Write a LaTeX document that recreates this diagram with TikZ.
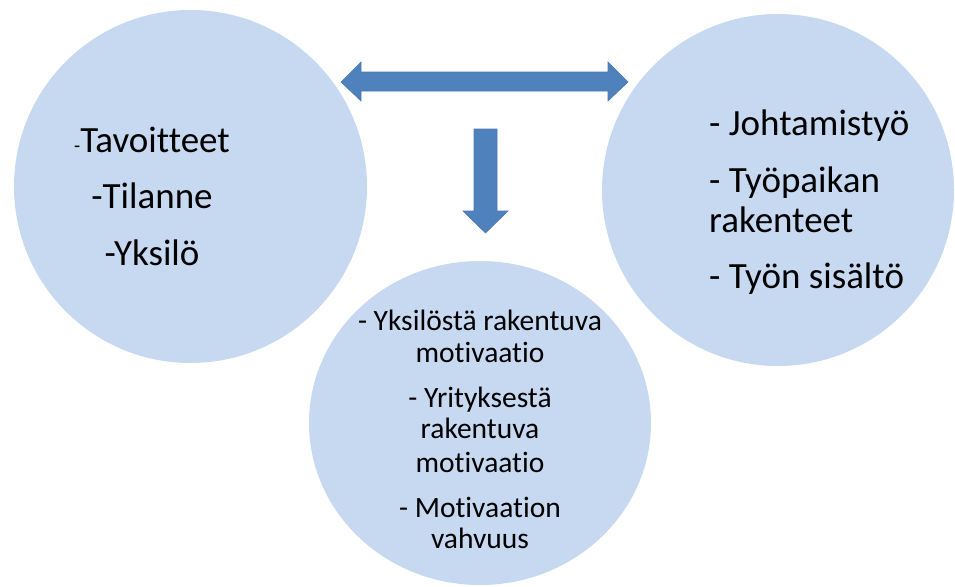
\documentclass[tikz,border=0pt]{standalone}
\usepackage{fontspec}
\setmainfont{Carlito}[RawFeature={-liga;-clig}]
\definecolor{discfill}{HTML}{C6D9F1}
\definecolor{arrowfill}{HTML}{4F81BD}
\definecolor{arrowedge}{HTML}{4A7AB5}
\begin{document}
\begin{tikzpicture}[x=1pt,y=-1pt,
  bigtxt/.style={font=\fontsize{37}{44}\selectfont, inner sep=0pt},
  smalltxt/.style={font=\fontsize{29.5}{35}\selectfont, inner sep=0pt},
  blockarrow/.style={fill=arrowfill, draw=arrowedge, line width=0.6pt, line join=miter}]
\useasboundingbox (0,0) rectangle (955,586);

% three discs
\fill[discfill] (190.5,186.5) circle[radius=176.5];
\fill[discfill] (778,190) circle[radius=176];
\fill[discfill] (480,423) ellipse[x radius=171, y radius=162];
\coordinate (leftdisc) at (190.5,186.5);
\coordinate (rightdisc) at (778,190);
\coordinate (bottomdisc) at (480,423);

% double-headed block arrow between the upper discs
\path[blockarrow] (341,82) -- (361,62) -- (361,72) -- (608,72) -- (608,62)
  -- (628,82) -- (608,101) -- (608,91) -- (361,91) -- (361,101) -- cycle;

% block arrow pointing down to the lower disc
\path[blockarrow] (474,129) -- (497,129) -- (497,211) -- (508,211) -- (485.5,233)
  -- (463,211) -- (474,211) -- cycle;

% left disc text
\node[bigtxt, anchor=base] (l1) at (152,152) {{\fontsize{20}{24}\selectfont -}Tavoitteet};
\node[bigtxt, anchor=base] (l2) at (152,208) {-Tilanne};
\node[bigtxt, anchor=base] (l3) at (152,265) {-Yksilö};

% right disc text
\node[bigtxt, anchor=base west] (r1) at (709,135) {- Johtamistyö};
\node[bigtxt, anchor=base west] (r2) at (709,192) {- Työpaikan};
\node[bigtxt, anchor=base west] (r3) at (709,232) {rakenteet};
\node[bigtxt, anchor=base west] (r4) at (709,288) {- Työn sisältö};

% lower disc text
\node[smalltxt, anchor=base] (b1) at (480,330) {- Yksilöstä rakentuva};
\node[smalltxt, anchor=base] (b2) at (480,362) {motivaatio};
\node[smalltxt, anchor=base] (b3) at (480,407) {- Yrityksestä};
\node[smalltxt, anchor=base] (b4) at (480,438) {rakentuva};
\node[smalltxt, anchor=base] (b5) at (480,472) {motivaatio};
\node[smalltxt, anchor=base] (b6) at (480,517) {- Motivaation};
\node[smalltxt, anchor=base] (b7) at (480,548) {vahvuus};
\end{tikzpicture}
\end{document}
